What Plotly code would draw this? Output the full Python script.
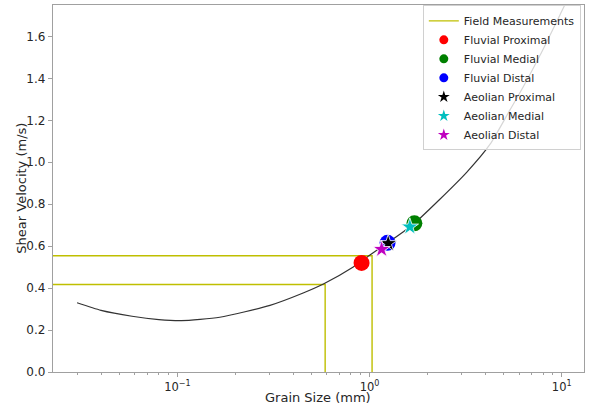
import plotly.graph_objects as go

# Threshold curve (grain size mm, shear velocity m/s)
curve_d = [0.030, 0.040, 0.058, 0.080, 0.105, 0.166, 0.303, 0.451, 0.578, 0.822, 1.00,
           1.24, 1.50, 1.71, 2.3, 3.2, 4.23, 5.38, 6.31, 7.71, 10.0, 10.5]
curve_v = [0.330, 0.294, 0.266, 0.250, 0.245, 0.261, 0.318, 0.377, 0.421, 0.501, 0.557,
           0.616, 0.669, 0.709, 0.82, 0.952, 1.085, 1.25, 1.36, 1.51, 1.72, 1.76]

# Field measurements (grain size, shear velocity)
field_d = [0.587, 1.03]
field_v = [0.417, 0.554]
field_xmin = 0.01

# Sample points
samples = [
    ("Fluvial Proximal", 0.908, 0.520, "red", "circle"),
    ("Fluvial Medial", 1.71, 0.709, "green", "circle"),
    ("Fluvial Distal", 1.24, 0.616, "blue", "circle"),
    ("Aeolian Proximal", 1.25, 0.613, "black", "star"),
    ("Aeolian Medial", 1.62, 0.692, "#00bfbf", "star"),
    ("Aeolian Distal", 1.155, 0.585, "#bf00bf", "star"),
]

x_ticks = [0.1, 1, 10]
x_ticktext = ["10<sup>\u22121</sup>", "10<sup>0</sup>", "10<sup>1</sup>"]
minor_vals = [m * 10 ** e for e in (-2, -1, 0, 1) for m in range(2, 10)]
y_ticks = [0.0, 0.2, 0.4, 0.6, 0.8, 1.0, 1.2, 1.4, 1.6]

YELLOW = "#bfbf00"
fig = go.Figure()

for d, v in zip(field_d, field_v):
    fig.add_trace(go.Scatter(
        x=[field_xmin, d, d], y=[v, v, 0], mode="lines",
        line=dict(color=YELLOW, width=1.4),
        showlegend=False, hoverinfo="skip"))

fig.add_trace(go.Scatter(
    x=curve_d, y=curve_v, mode="lines",
    line=dict(color="#333333", width=1.2, shape="spline", smoothing=0.6),
    showlegend=False, hoverinfo="skip"))

for name, d, v, c, sym in samples:
    if sym == "circle":
        marker = dict(color=c, size=16, symbol="circle", line=dict(width=0))
    else:
        marker = dict(color=c, size=13, symbol="star", line=dict(color="white", width=0.8))
    fig.add_trace(go.Scatter(x=[d], y=[v], mode="markers", name=name,
                             marker=marker, showlegend=False))

# legend-only entries (smaller symbols as in the reference legend)
fig.add_trace(go.Scatter(x=[None], y=[None], mode="lines", name="Field Measurements",
                         line=dict(color=YELLOW, width=1.4)))
for name, d, v, c, sym in samples:
    fig.add_trace(go.Scatter(x=[None], y=[None], mode="markers", name=name,
                             marker=dict(color=c, size=9, symbol=sym, line=dict(width=0))))

axis_common = dict(
    showline=True, linecolor="#a0a0a0", linewidth=1.3, mirror=True,
    ticks="outside", tickcolor="#a0a0a0", ticklen=4, showgrid=False, zeroline=False,
    automargin=False,
)

fig.update_xaxes(
    type="log", range=[-1.648, 1.116],
    tickmode="array", tickvals=x_ticks, ticktext=x_ticktext,
    tickfont=dict(family="DejaVu Sans", size=11.5, color="#262626"),
    minor=dict(tickmode="array", tickvals=minor_vals, ticks="outside", ticklen=2,
               tickcolor="#a0a0a0", showgrid=False),
    **axis_common)
fig.update_yaxes(
    range=[0, 1.75], tickmode="array", tickvals=y_ticks, tickformat=".1f",
    tickfont=dict(family="DejaVu Sans", size=12, color="#262626"),
    **axis_common)

title_font = dict(family="DejaVu Sans", size=13, color="#262626")
fig.add_annotation(text="Grain Size (mm)", xref="paper", yref="paper", x=0.499, y=-0.0915,
                   xanchor="center", yanchor="bottom", borderpad=0, showarrow=False,
                   font=title_font)
fig.add_annotation(text="Shear Velocity (m/s)", xref="paper", yref="paper", x=-0.06, y=0.5,
                   xanchor="center", yanchor="middle", showarrow=False, textangle=-90,
                   font=title_font)

fig.update_layout(
    width=589, height=406,
    margin=dict(l=53, r=5, t=5, b=34),
    paper_bgcolor="white", plot_bgcolor="white",
    font=dict(family="DejaVu Sans", color="#262626"),
    legend=dict(x=0.994, y=0.999, xanchor="right", yanchor="top",
                bgcolor="rgba(255,255,255,0.8)", bordercolor="#d0d0d0", borderwidth=1,
                font=dict(family="DejaVu Sans", size=11, color="#262626"),
                tracegroupgap=0),
)

fig.write_html("out.html", config={"displayModeBar": False},
               post_script="document.body.style.margin='0';document.body.style.overflow='hidden';")
